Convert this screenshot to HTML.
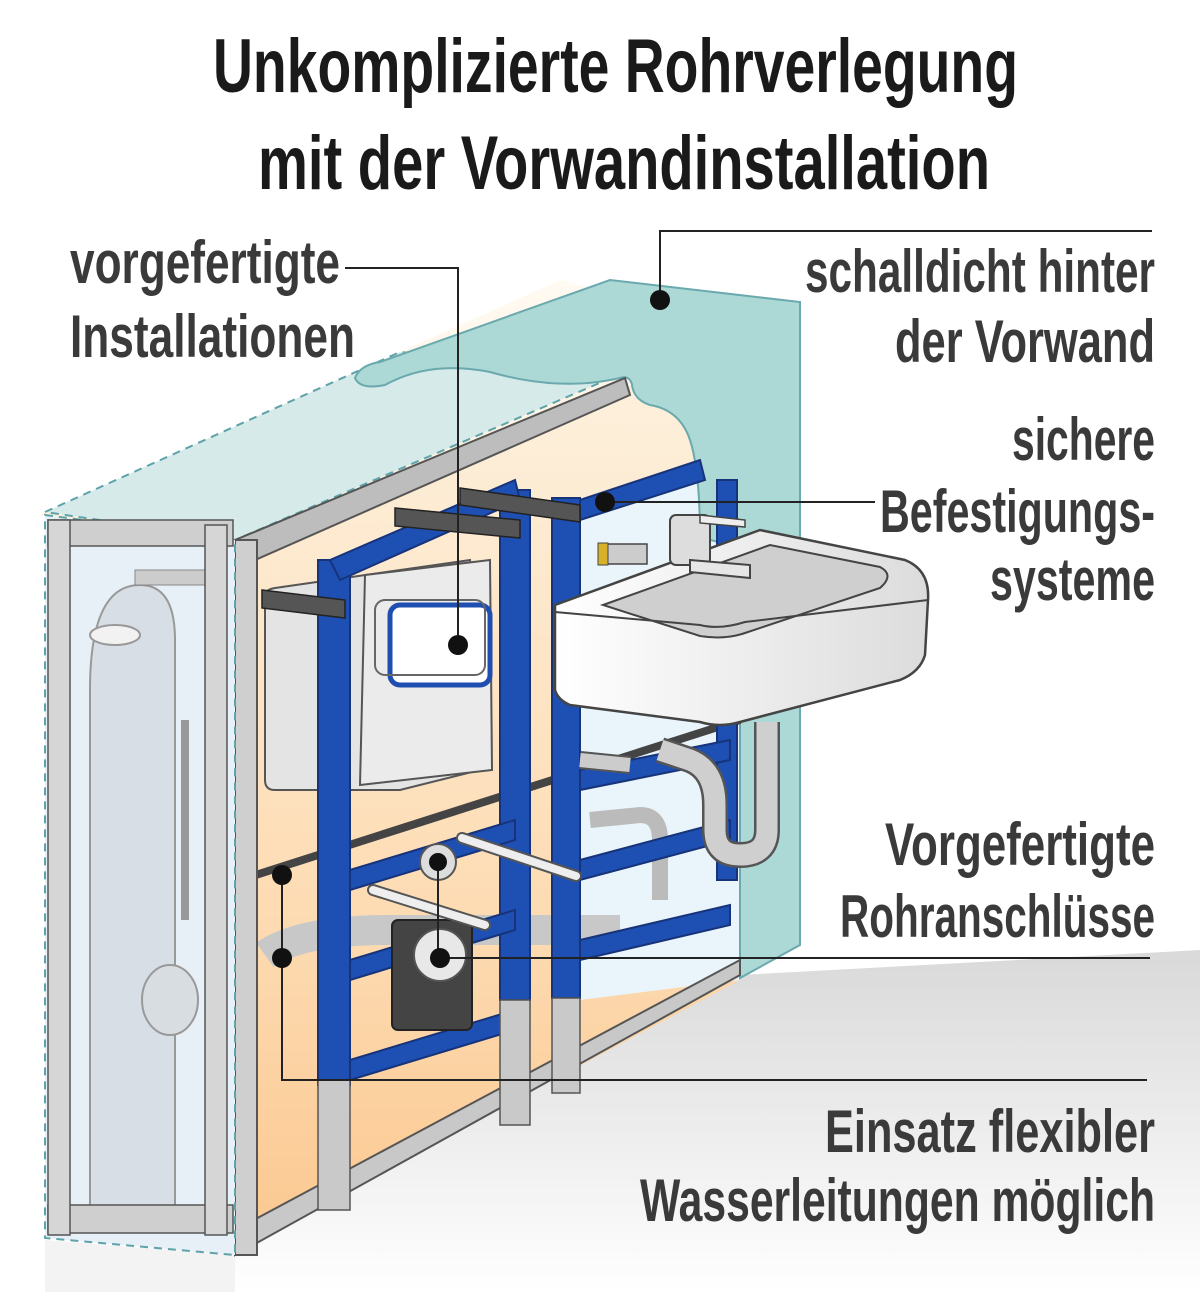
<!DOCTYPE html>
<html><head><meta charset="utf-8"><style>
html,body{margin:0;padding:0;background:#fff;}
svg{display:block}
.t{font-family:"Liberation Sans Narrow","Liberation Sans",sans-serif;font-weight:bold;}
</style></head><body>
<svg width="1200" height="1292" viewBox="0 0 1200 1292" xmlns="http://www.w3.org/2000/svg">
<defs>
<linearGradient id="floor" x1="0" y1="0" x2="0" y2="1">
<stop offset="0" stop-color="#d9d9d9"/><stop offset="1" stop-color="#ffffff"/></linearGradient>
<linearGradient id="peach" x1="0" y1="0" x2="0" y2="1">
<stop offset="0" stop-color="#fdf0dc"/><stop offset="0.6" stop-color="#fddcb4"/><stop offset="1" stop-color="#fbc890"/></linearGradient>
<linearGradient id="glow" x1="0" y1="0" x2="0" y2="1">
<stop offset="0" stop-color="#fffaf2"/><stop offset="1" stop-color="#fdeed8"/></linearGradient>
<linearGradient id="sinkg" x1="0" y1="0" x2="1" y2="0">
<stop offset="0" stop-color="#ffffff"/><stop offset="1" stop-color="#dcdcdc"/></linearGradient>
</defs>

<polygon points="40,515 560,280 640,300 640,380 235,540" fill="url(#glow)"/>
<polygon points="235,1255 740,975 1200,950 1200,1292 235,1292" fill="url(#floor)"/>
<polygon points="45,1240 235,1255 235,1292 45,1292" fill="#f3f3f3"/>

<polygon points="235,545 630,385 740,430 740,980 235,1250" fill="url(#peach)"/>
<polygon points="580,500 740,460 740,980 580,1000" fill="#eaf4fb"/>

<polygon points="45,512 400,352 625,372 235,540" fill="#d6eaea" stroke="#5fa3aa" stroke-width="2" stroke-dasharray="8,6"/>

<!-- teal board -->
<path d="M355,378 Q360,365 380,362 L610,280 L800,302 L800,945 L740,978 L740,570 Q738,545 710,540 L700,540 Q700,470 690,440 Q680,410 650,405 Q634,400 632,385 Q630,375 620,378 Q560,392 490,372 Q430,360 385,385 Q360,390 355,378 Z" fill="#acd8d6" stroke="#6aa9ad" stroke-width="2"/>

<!-- cistern -->
<path d="M265,600 Q262,590 275,588 L470,560 L480,770 L400,790 L275,790 Q265,790 265,780 Z" fill="#e4e4e4" stroke="#555" stroke-width="2"/>
<path d="M365,575 L490,560 L492,770 L360,785 Z" fill="#ebebeb" stroke="#555" stroke-width="2"/>
<rect x="390" y="605" width="100" height="80" rx="10" fill="#fff" stroke="#1e4fb0" stroke-width="5"/>
<rect x="375" y="600" width="110" height="75" rx="10" fill="none" stroke="#666" stroke-width="2"/>
<path d="M265,955 Q300,930 390,930 L620,930" fill="none" stroke="#c8c8c8" stroke-width="30"/>
<line x1="240" y1="880" x2="740" y2="720" stroke="#444" stroke-width="8"/>
<path d="M590,820 L640,815 Q660,815 660,840 L660,900" fill="none" stroke="#bbb" stroke-width="16"/>

<polygon points="235,540 625,378 630,395 255,560" fill="#bdbdbd" stroke="#555" stroke-width="2"/>
<polygon points="235,1230 740,960 740,975 235,1255" fill="#c8c8c8" stroke="#555" stroke-width="2"/>
<rect x="235" y="540" width="22" height="715" fill="#cfcfcf" stroke="#555" stroke-width="2"/>

<g fill="#1e50b4" stroke="#17337a" stroke-width="2">
<rect x="318" y="560" width="32" height="525"/>
<rect x="500" y="490" width="30" height="510"/>
<rect x="552" y="498" width="28" height="500"/>
<rect x="717" y="480" width="20" height="400"/>
<polygon points="330,560 515,480 520,500 340,580"/>
<polygon points="350,870 515,820 515,840 350,890"/>
<polygon points="350,960 515,910 515,930 350,980"/>
<polygon points="350,1060 515,1010 515,1030 350,1080"/>
<polygon points="580,500 700,460 705,480 580,520"/>
<polygon points="580,770 730,740 730,760 580,790"/>
<polygon points="580,860 730,820 730,840 580,880"/>
<polygon points="580,940 730,905 730,925 580,960"/>
</g>
<rect x="318" y="1080" width="32" height="130" fill="#c9c9c9" stroke="#555" stroke-width="1.5"/>
<rect x="500" y="1000" width="30" height="125" fill="#c9c9c9" stroke="#555" stroke-width="1.5"/>
<rect x="552" y="998" width="28" height="95" fill="#c9c9c9" stroke="#555" stroke-width="1.5"/>

<g fill="#555" stroke="#222" stroke-width="1.5">
<polygon points="262,590 345,600 345,618 262,608"/>
<polygon points="395,508 520,520 520,538 395,526"/>
<polygon points="460,488 580,505 580,522 460,505"/>
</g>
<rect x="392" y="920" width="80" height="110" rx="6" fill="#444" stroke="#222" stroke-width="2"/>
<circle cx="440" cy="955" r="26" fill="#e8e8e8" stroke="#555" stroke-width="2"/>
<circle cx="438" cy="862" r="18" fill="#ddd" stroke="#555" stroke-width="2"/>
<line x1="462" y1="838" x2="576" y2="876" stroke="#555" stroke-width="12" stroke-linecap="round"/>
<line x1="462" y1="838" x2="576" y2="876" stroke="#eee" stroke-width="8" stroke-linecap="round"/>
<line x1="373" y1="890" x2="485" y2="925" stroke="#555" stroke-width="12" stroke-linecap="round"/>
<line x1="373" y1="890" x2="485" y2="925" stroke="#eee" stroke-width="8" stroke-linecap="round"/>

<polygon points="45,515 235,540 235,1255 45,1238" fill="#e6f0f6" stroke="#5fa3aa" stroke-width="2" stroke-dasharray="8,6"/>
<path d="M90,1210 L90,690 Q90,585 140,585 Q175,585 175,640 L175,1210 Z" fill="#d8dee5" stroke="#999" stroke-width="2"/>
<ellipse cx="115" cy="635" rx="25" ry="10" fill="#f2f2f2" stroke="#999" stroke-width="2"/>
<ellipse cx="170" cy="1000" rx="28" ry="35" fill="#d8dde2" stroke="#999" stroke-width="2"/>
<path d="M185,720 L185,920" stroke="#999" stroke-width="8"/>
<rect x="135" y="570" width="70" height="15" fill="#ccc" stroke="#888"/>
<rect x="48" y="520" width="185" height="26" fill="#cfcfcf" stroke="#555" stroke-width="1.5"/>
<rect x="48" y="1205" width="185" height="28" fill="#cfcfcf" stroke="#555" stroke-width="1.5"/>
<rect x="48" y="520" width="22" height="715" fill="#d6d6d6" stroke="#555" stroke-width="1.5"/>
<rect x="205" y="525" width="22" height="710" fill="#d6d6d6" stroke="#555" stroke-width="1.5"/>

<path d="M555,605 L760,530 L905,560 Q930,570 928,600 L925,655 Q920,672 900,680 L740,722 Q720,728 700,722 L570,705 Q558,700 555,690 Z" fill="url(#sinkg)" stroke="#444" stroke-width="2.5"/>
<path d="M603,605 L770,545 L880,567 Q895,575 880,588 L745,633 Q725,640 700,636 Z" fill="#cfcfcf" stroke="#444" stroke-width="2"/>
<path d="M555,612 L700,625 Q720,630 745,622 L928,600" fill="none" stroke="#444" stroke-width="2"/>
<rect x="670" y="515" width="40" height="50" rx="6" fill="#ddd" stroke="#444" stroke-width="2"/>
<path d="M690,560 L750,565 L750,578 L690,572 Z" fill="#e6e6e6" stroke="#444" stroke-width="2"/>
<path d="M700,515 L745,520 L745,527 L700,523 Z" fill="#eee" stroke="#444" stroke-width="1.5"/>
<rect x="602" y="544" width="45" height="20" fill="#ccc" stroke="#444" stroke-width="1.5"/>
<rect x="598" y="543" width="10" height="22" fill="#d8b02a" stroke="#444"/>
<path d="M767,722 L767,830 Q767,855 740,855 Q715,855 715,830 L715,805 Q715,770 690,760 L660,750" fill="none" stroke="#555" stroke-width="26"/>
<path d="M767,722 L767,830 Q767,855 740,855 Q715,855 715,830 L715,805 Q715,770 690,760 L660,750" fill="none" stroke="#cfcfcf" stroke-width="21"/>
<path d="M580,760 L630,765" stroke="#555" stroke-width="18"/><path d="M580,760 L630,765" stroke="#ccc" stroke-width="14"/>

<g stroke="#222" stroke-width="2" fill="none">
<polyline points="345,268 458,268 458,645"/>
<polyline points="660,300 660,231 1152,231"/>
<line x1="605" y1="502" x2="875" y2="502"/>
<line x1="440" y1="958" x2="1150" y2="958"/>
<line x1="438" y1="862" x2="438" y2="958"/>
<polyline points="282,875 282,1080 1147,1080"/>
</g>
<g fill="#111">
<circle cx="458" cy="645" r="10"/><circle cx="660" cy="300" r="10"/>
<circle cx="605" cy="502" r="10"/><circle cx="440" cy="958" r="10"/>
<circle cx="438" cy="862" r="9"/><circle cx="282" cy="875" r="10"/><circle cx="282" cy="958" r="10"/>
</g>

<g class="t" font-size="76" fill="#1a1a1a">
<text x="213" y="92" textLength="805" lengthAdjust="spacingAndGlyphs">Unkomplizierte Rohrverlegung</text>
<text x="258" y="189" textLength="732" lengthAdjust="spacingAndGlyphs">mit der Vorwandinstallation</text>
</g>
<g class="t" font-size="60" fill="#3a3a3a">
<text x="70" y="283" textLength="270" lengthAdjust="spacingAndGlyphs">vorgefertigte</text>
<text x="70" y="357" textLength="285" lengthAdjust="spacingAndGlyphs">Installationen</text>
<text x="805" y="292" textLength="350" lengthAdjust="spacingAndGlyphs">schalldicht hinter</text>
<text x="895" y="362" textLength="260" lengthAdjust="spacingAndGlyphs">der Vorwand</text>
<text x="1012" y="460" textLength="143" lengthAdjust="spacingAndGlyphs">sichere</text>
<text x="880" y="532" textLength="275" lengthAdjust="spacingAndGlyphs">Befestigungs-</text>
<text x="990" y="600" textLength="165" lengthAdjust="spacingAndGlyphs">systeme</text>
<text x="885" y="865" textLength="270" lengthAdjust="spacingAndGlyphs">Vorgefertigte</text>
<text x="840" y="937" textLength="315" lengthAdjust="spacingAndGlyphs">Rohranschlüsse</text>
<text x="825" y="1152" textLength="330" lengthAdjust="spacingAndGlyphs">Einsatz flexibler</text>
<text x="640" y="1221" textLength="515" lengthAdjust="spacingAndGlyphs">Wasserleitungen möglich</text>
</g>
</svg>
</body></html>
